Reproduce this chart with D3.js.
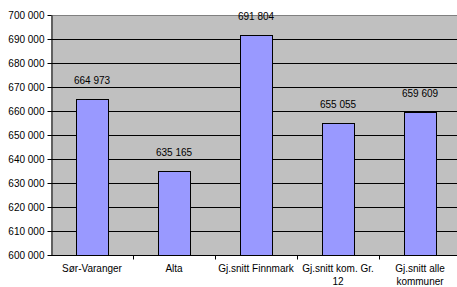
<!DOCTYPE html>
<html>
<head>
<meta charset="utf-8">
<script src="https://cdn.jsdelivr.net/npm/d3@7"></script>
<style>
  body { margin: 0; background: #fff; }
  svg { display: block; }
  text { font-family: "Liberation Sans", Arial, sans-serif; font-size: 10px; fill: #000; }
</style>
</head>
<body>
<svg id="chart"></svg>
<script>
const categories = ["Sør-Varanger", "Alta", "Gj.snitt Finnmark", "Gj.snitt kom. Gr. 12", "Gj.snitt alle kommuner"];
const values = [664973, 635165, 691804, 655055, 659609];
const yTicks = [600000, 610000, 620000, 630000, 640000, 650000, 660000, 670000, 680000, 690000, 700000];

let svg = d3.select("#chart"),
  margin = { top: 15, right: 0, bottom: 32, left: 51 },
  width = 410,
  height = 240;

svg.attr("width", 457).attr("height", 287);

let xScale = d3.scaleBand().domain(categories).range([0, width]).paddingInner(0).paddingOuter(0),
  yScale = d3.scaleLinear().domain([600000, 700000]).range([height, 0]);

let fmt = (d) => d3.format(",")(d).replace(/,/g, " ");

let g = svg.append("g").attr("transform", "translate(" + margin.left + "," + margin.top + ")");

// plot background
g.append("rect")
  .attr("width", width)
  .attr("height", height)
  .attr("fill", "#c0c0c0");

// gridlines
g.selectAll(".grid")
  .data(yTicks.slice(1, -1))
  .enter()
  .append("line")
  .attr("x1", 0)
  .attr("x2", width)
  .attr("y1", (d) => Math.round(yScale(d)) + 0.5)
  .attr("y2", (d) => Math.round(yScale(d)) + 0.5)
  .attr("stroke", "#000");

// top border
g.append("line")
  .attr("x1", 0).attr("x2", width)
  .attr("y1", 0.5).attr("y2", 0.5)
  .attr("stroke", "#808080");

// bars
let barW = 32;
g.selectAll(".bar")
  .data(values)
  .enter()
  .append("rect")
  .attr("class", "bar")
  .attr("x", (d, i) => Math.round(xScale(categories[i]) + xScale.bandwidth() / 2 - barW / 2) + 0.5)
  .attr("y", (d) => Math.round(yScale(d)) + 0.5)
  .attr("width", barW)
  .attr("height", (d) => height - Math.round(yScale(d)))
  .attr("fill", "#9999ff")
  .attr("stroke", "#000");

// value labels
g.selectAll(".val")
  .data(values)
  .enter()
  .append("text")
  .attr("x", (d, i) => xScale(categories[i]) + xScale.bandwidth() / 2)
  .attr("y", (d) => yScale(d) - 15)
  .attr("text-anchor", "middle")
  .text((d) => fmt(d));

// y axis
let yAxis = g.append("g")
  .attr("transform", "translate(0.5,0)")
  .call(d3.axisLeft(yScale).tickValues(yTicks).tickFormat(fmt).tickSize(4).tickSizeOuter(0));
yAxis.select(".domain").attr("stroke", "#000");
yAxis.selectAll(".tick line").attr("stroke", "#000");
yAxis.selectAll(".tick text").attr("x", -7).attr("font-size", null).attr("font-family", null);

// x axis
let xAxis = g.append("g")
  .attr("transform", "translate(0," + (height + 0.5) + ")");
xAxis.append("line")
  .attr("x1", 0).attr("x2", width)
  .attr("stroke", "#000");
xAxis.selectAll(".xtick")
  .data(categories.slice(1))
  .enter()
  .append("line")
  .attr("x1", (d) => Math.round(xScale(d)) + 0.5)
  .attr("x2", (d) => Math.round(xScale(d)) + 0.5)
  .attr("y1", 0).attr("y2", 4)
  .attr("stroke", "#000");

let labels = xAxis.selectAll(".xl")
  .data(categories)
  .enter()
  .append("text")
  .attr("text-anchor", "middle")
  .attr("x", (d) => xScale(d) + xScale.bandwidth() / 2)
  .attr("y", 16.5);

labels.each(function (d) {
  let t = d3.select(this);
  let words = d.split(" ");
  let line = [];
  let tspan = t.append("tspan").attr("x", t.attr("x")).attr("dy", 0);
  words.forEach((w) => {
    line.push(w);
    tspan.text(line.join(" "));
    if (tspan.node().getComputedTextLength() > 82 && line.length > 1) {
      line.pop();
      tspan.text(line.join(" "));
      line = [w];
      tspan = t.append("tspan").attr("x", t.attr("x")).attr("dy", 13).text(w);
    }
  });
});
</script>
</body>
</html>
